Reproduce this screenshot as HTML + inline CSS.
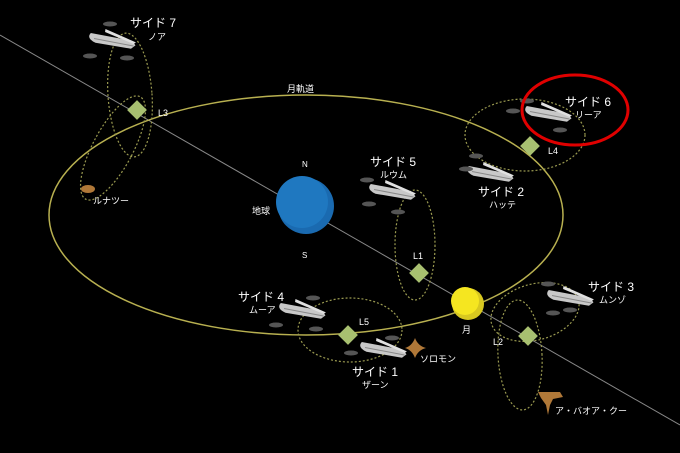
<!DOCTYPE html>
<html><head><meta charset="utf-8"><style>
body{margin:0;background:#000}
svg{display:block}
text{font-family:"Liberation Sans","Noto Sans CJK JP",sans-serif;fill:#fff}
</style></head><body>
<svg width="680" height="453" viewBox="0 0 680 453" xmlns="http://www.w3.org/2000/svg">
<defs>
<g id="col">
<path d="M-22,-4 L20,-2 L24,2 L20,6 L-16,5 Q-26,2 -22,-4Z" fill="#c8c8c8"/>
<path d="M-8,-10 L24,-1 L22,1 L-8,-7Z" fill="#e0e0e0"/>
<line x1="-18" y1="1" x2="22" y2="3" stroke="#888" stroke-width="1"/>
</g>
<g id="sm"><ellipse cx="0" cy="0" rx="7" ry="2.5" fill="#555"/></g>
</defs>
<rect width="680" height="453" fill="#000"/>
<line x1="0" y1="35" x2="680" y2="425" stroke="#888" stroke-width="1"/>
<ellipse cx="306" cy="215" rx="257" ry="120" fill="none" stroke="#b8b050" stroke-width="1.5"/>
<g fill="none" stroke="#9a9a50" stroke-width="1.2" stroke-dasharray="2,2">
<ellipse cx="130" cy="95" rx="22" ry="62" transform="rotate(-4 130 95)"/>
<ellipse cx="113" cy="148" rx="20" ry="58" transform="rotate(28 113 148)"/>
<ellipse cx="525" cy="135" rx="60" ry="36"/>
<ellipse cx="415" cy="245" rx="20" ry="55"/>
<ellipse cx="350" cy="330" rx="52" ry="32"/>
<ellipse cx="535" cy="312" rx="45" ry="28" transform="rotate(-15 535 312)"/>
<ellipse cx="520" cy="355" rx="22" ry="55" transform="rotate(-3 520 355)"/>
</g>
<circle cx="306" cy="206" r="28" fill="#1a6ab0"/>
<circle cx="302" cy="202" r="26" fill="#1f78c0"/>
<circle cx="468" cy="304" r="16" fill="#d8c820"/>
<circle cx="465" cy="301" r="14" fill="#f5e620"/>
<g fill="#a8c070">
<rect x="-7" y="-7" width="14" height="14" transform="translate(137 110) rotate(45)"/>
<rect x="-7" y="-7" width="14" height="14" transform="translate(530 146) rotate(45)"/>
<rect x="-7" y="-7" width="14" height="14" transform="translate(419 273) rotate(45)"/>
<rect x="-7" y="-7" width="14" height="14" transform="translate(348 335) rotate(45)"/>
<rect x="-7" y="-7" width="14" height="14" transform="translate(528 336) rotate(45)"/>
</g>
<!-- colonies -->
<use href="#col" transform="translate(112 40) rotate(8)"/>
<use href="#sm" x="110" y="24"/><use href="#sm" x="90" y="56"/><use href="#sm" x="127" y="58"/>
<use href="#col" transform="translate(548 113) rotate(8)"/>
<use href="#sm" x="527" y="101"/><use href="#sm" x="513" y="111"/><use href="#sm" x="560" y="130"/>
<use href="#col" transform="translate(490 173) rotate(8)"/>
<use href="#sm" x="476" y="156"/><use href="#sm" x="466" y="169"/>
<use href="#col" transform="translate(392 191) rotate(8)"/>
<use href="#sm" x="367" y="180"/><use href="#sm" x="369" y="204"/><use href="#sm" x="398" y="212"/>
<use href="#col" transform="translate(302 310) rotate(8)"/>
<use href="#sm" x="313" y="298"/><use href="#sm" x="276" y="325"/><use href="#sm" x="316" y="329"/>
<use href="#col" transform="translate(383 349) rotate(8)"/>
<use href="#sm" x="392" y="338"/><use href="#sm" x="351" y="353"/>
<use href="#col" transform="translate(570 297) rotate(8)"/>
<use href="#sm" x="548" y="284"/><use href="#sm" x="553" y="313"/><use href="#sm" x="570" y="310"/>
<!-- asteroids -->
<ellipse cx="88" cy="189" rx="7" ry="4" fill="#b07838"/>
<path d="M415,338 Q418,346 426,348 Q418,350 415,358 Q412,350 405,348 Q412,346 415,338Z" fill="#b07838"/>
<path d="M538,392 L560,392 L563,397 L553,399 L550,405 L548,415 L546,405 L541,398Z" fill="#b07838"/>
<!-- labels -->
<g font-size="12">
<text x="130" y="27">サイド 7</text>
<text x="565" y="106">サイド 6</text>
<text x="478" y="196">サイド 2</text>
<text x="370" y="166">サイド 5</text>
<text x="238" y="301">サイド 4</text>
<text x="352" y="376">サイド 1</text>
<text x="588" y="291">サイド 3</text>
</g>
<g font-size="9">
<text x="148" y="40">ノア</text>
<text x="575" y="118">リーア</text>
<text x="489" y="208">ハッテ</text>
<text x="380" y="178">ルウム</text>
<text x="249" y="313">ムーア</text>
<text x="362" y="388">ザーン</text>
<text x="599" y="303">ムンゾ</text>
<text x="93" y="204">ルナツー</text>
<text x="420" y="362">ソロモン</text>
<text x="555" y="414">ア・バオア・クー</text>
<text x="287" y="92">月軌道</text>
<text x="252" y="214">地球</text>
<text x="462" y="333">月</text>
<text x="158" y="116">L3</text>
<text x="548" y="154">L4</text>
<text x="413" y="259">L1</text>
<text x="359" y="325">L5</text>
<text x="493" y="345">L2</text>
<text x="302" y="167" font-size="8">N</text>
<text x="302" y="258" font-size="8">S</text>
</g>
<ellipse cx="575" cy="110" rx="53" ry="35" fill="none" stroke="#e00000" stroke-width="3"/>
</svg>
</body></html>
